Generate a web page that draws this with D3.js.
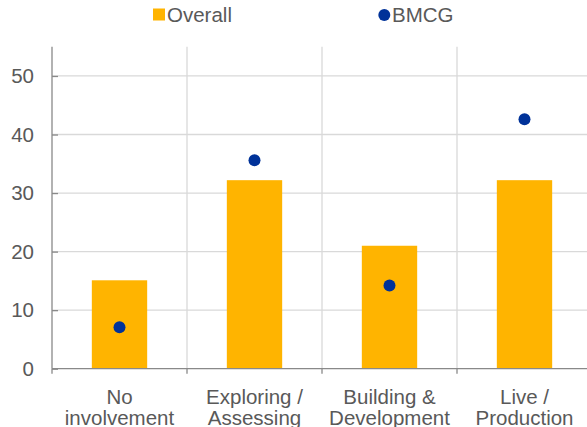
<!DOCTYPE html>
<html><head><meta charset="utf-8">
<script src="https://cdn.jsdelivr.net/npm/d3@7"></script>
<style>body{margin:0;background:#fff}svg{display:block;font-family:"Liberation Sans",Arial,sans-serif}</style>
</head><body><svg id="c" width="587" height="427"></svg>
<script>
const categories = [["No","involvement"],["Exploring /","Assessing"],["Building &","Development"],["Live /","Production"]];
const overall = [15.1, 32.2, 21.0, 32.2];
const bmcg = [7.1, 35.6, 14.2, 42.6];
const yTicks = [0,10,20,30,40,50];
const seriesNames = ["Overall","BMCG"];

const svg = d3.select("#c");
const x0 = 52, x1 = 592, yTop = 46.7, yBot = 368.7;
const fs = "20.5px";
const x = d3.scaleBand().domain(d3.range(categories.length)).range([x0,x1]);
const y = d3.scaleLinear().domain([0,55]).range([yBot,yTop]);
const grid = "#d9d9d9", axisC = "#898989", textC = "#595959";

// horizontal gridlines
svg.append("g").selectAll("line").data(yTicks.filter(d=>d>0)).join("line")
  .attr("x1",x0).attr("x2",587).attr("y1",d=>y(d)).attr("y2",d=>y(d))
  .attr("stroke",grid).attr("stroke-width",1.3);
// vertical gridlines at category boundaries
svg.append("g").selectAll("line").data(d3.range(1,categories.length)).join("line")
  .attr("x1",d=>x(d)).attr("x2",d=>x(d)).attr("y1",yTop).attr("y2",yBot)
  .attr("stroke",grid).attr("stroke-width",1.3);

// bars
const bw = x.bandwidth()*0.41;
svg.append("g").selectAll("rect").data(overall).join("rect")
  .attr("x",(d,i)=>x(i)+x.bandwidth()/2-bw/2).attr("width",bw)
  .attr("y",d=>y(d)).attr("height",d=>yBot-y(d)).attr("fill","#FFB400");
// dots
svg.append("g").selectAll("circle").data(bmcg).join("circle")
  .attr("cx",(d,i)=>x(i)+x.bandwidth()/2).attr("cy",d=>y(d)).attr("r",6)
  .attr("fill","#003299");

// y axis
const ya = svg.append("g").attr("transform",`translate(${x0},0)`)
  .call(d3.axisLeft(y).tickValues(yTicks).tickSize(0).tickPadding(12).tickFormat(d3.format("d")));
ya.select(".domain").attr("stroke",axisC).attr("stroke-width",1.3).attr("d",`M0,${yTop}V${yBot}`);
ya.selectAll("text").attr("fill",textC).style("font-size",fs).attr("font-family","Liberation Sans, Arial, sans-serif").attr("dx","-6");
ya.selectAll(".tick").append("line").attr("x1",0).attr("x2",6).attr("stroke",axisC).attr("stroke-width",1.3);

// x axis
const xa = svg.append("g").attr("transform",`translate(0,${yBot})`);
xa.append("line").attr("x1",x0).attr("x2",587).attr("stroke",axisC).attr("stroke-width",1.3);
xa.selectAll("line.t").data(d3.range(categories.length+1)).join("line").attr("class","t")
  .attr("x1",d=>x0+d*x.step()).attr("x2",d=>x0+d*x.step()).attr("y1",0).attr("y2",5)
  .attr("stroke",axisC).attr("stroke-width",1.3);
const lab = svg.append("g").selectAll("text").data(categories).join("text")
  .attr("text-anchor","middle").attr("fill",textC).style("font-size",fs);
lab.each(function(d,i){
  const t = d3.select(this);
  d.forEach((s,j)=>t.append("tspan").attr("x",x(i)+x.bandwidth()/2).attr("y",403.5+j*21).text(s));
});

// legend
const lg = svg.append("g");
lg.append("rect").attr("x",153).attr("y",8.5).attr("width",12).attr("height",12).attr("fill","#FFB400");
lg.append("text").attr("x",167).attr("y",21.7).attr("fill",textC).style("font-size",fs).text(seriesNames[0]);
lg.append("circle").attr("cx",384.3).attr("cy",15).attr("r",6).attr("fill","#003299");
lg.append("text").attr("x",392).attr("y",21.7).attr("fill",textC).style("font-size",fs).text(seriesNames[1]);
</script></body></html>
